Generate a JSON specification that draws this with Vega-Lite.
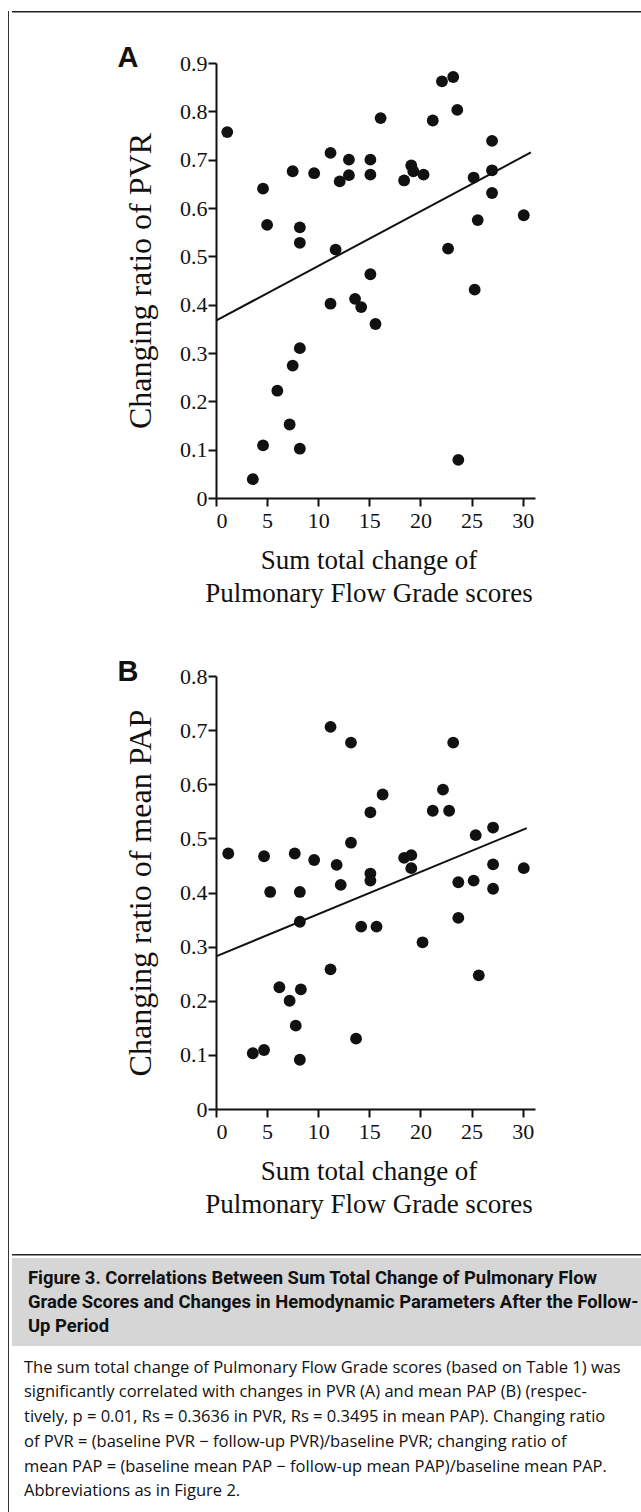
{
  "$schema": "https://vega.github.io/schema/vega-lite/v6.json",
  "background": "white",
  "padding": {"left": 5, "top": 9, "right": 0, "bottom": 0},
  "config": {
    "view": {"stroke": null},
    "concat": {"spacing": 0},
    "axis": {
      "grid": false,
      "domainColor": "#111",
      "domainWidth": 2,
      "tickColor": "#111",
      "tickWidth": 2,
      "tickSize": 8,
      "labelFont": "Liberation Serif",
      "labelFontSize": 22,
      "labelColor": "#111",
      "titleFont": "Liberation Serif",
      "titleFontWeight": "normal",
      "titleColor": "#111"
    },
    "axisX": {"titleFontSize": 27, "titlePadding": 16, "titleLineHeight": 33, "labelPadding": 4, "titleX": 152.5},
    "axisY": {"titleFontSize": 32, "titlePadding": 22, "labelPadding": 1}
  },
  "datasets": {
    "pvr": [
      {"x": 1.1, "y": 0.757}, {"x": 4.6, "y": 0.640}, {"x": 5.0, "y": 0.565}, {"x": 7.5, "y": 0.676},
      {"x": 9.6, "y": 0.672}, {"x": 8.2, "y": 0.560}, {"x": 8.2, "y": 0.528}, {"x": 11.2, "y": 0.714},
      {"x": 12.1, "y": 0.655}, {"x": 13.0, "y": 0.700}, {"x": 13.0, "y": 0.668}, {"x": 11.7, "y": 0.514},
      {"x": 15.1, "y": 0.700}, {"x": 15.1, "y": 0.669}, {"x": 16.1, "y": 0.786}, {"x": 11.2, "y": 0.402},
      {"x": 13.6, "y": 0.412}, {"x": 14.2, "y": 0.395}, {"x": 15.1, "y": 0.463}, {"x": 15.6, "y": 0.360},
      {"x": 18.4, "y": 0.657}, {"x": 19.1, "y": 0.688}, {"x": 19.3, "y": 0.676}, {"x": 20.3, "y": 0.669},
      {"x": 21.2, "y": 0.781}, {"x": 22.1, "y": 0.862}, {"x": 23.2, "y": 0.871}, {"x": 23.6, "y": 0.803},
      {"x": 22.7, "y": 0.516}, {"x": 25.2, "y": 0.663}, {"x": 27.0, "y": 0.739}, {"x": 27.0, "y": 0.678},
      {"x": 27.0, "y": 0.631}, {"x": 25.6, "y": 0.575}, {"x": 30.1, "y": 0.585}, {"x": 25.3, "y": 0.431},
      {"x": 3.6, "y": 0.039}, {"x": 4.6, "y": 0.109}, {"x": 6.0, "y": 0.222}, {"x": 7.2, "y": 0.152},
      {"x": 7.5, "y": 0.274}, {"x": 8.2, "y": 0.310}, {"x": 8.2, "y": 0.102}, {"x": 23.7, "y": 0.079}
    ],
    "pvrfit": [{"x": 0, "y": 0.367}, {"x": 30.8, "y": 0.715}],
    "pap": [
      {"x": 1.2, "y": 0.472}, {"x": 4.7, "y": 0.467}, {"x": 5.3, "y": 0.401}, {"x": 7.7, "y": 0.472},
      {"x": 8.2, "y": 0.401}, {"x": 9.6, "y": 0.460}, {"x": 11.2, "y": 0.706}, {"x": 11.8, "y": 0.451},
      {"x": 12.2, "y": 0.414}, {"x": 13.2, "y": 0.677}, {"x": 13.2, "y": 0.492}, {"x": 15.1, "y": 0.548},
      {"x": 15.1, "y": 0.435}, {"x": 15.1, "y": 0.422}, {"x": 16.3, "y": 0.581}, {"x": 18.4, "y": 0.464},
      {"x": 19.1, "y": 0.469}, {"x": 19.1, "y": 0.445}, {"x": 21.2, "y": 0.551}, {"x": 22.2, "y": 0.590},
      {"x": 22.8, "y": 0.551}, {"x": 23.2, "y": 0.677}, {"x": 23.7, "y": 0.419}, {"x": 25.2, "y": 0.422},
      {"x": 25.4, "y": 0.506}, {"x": 27.1, "y": 0.520}, {"x": 27.1, "y": 0.452}, {"x": 27.1, "y": 0.407},
      {"x": 30.1, "y": 0.445}, {"x": 8.2, "y": 0.346}, {"x": 14.2, "y": 0.337}, {"x": 15.7, "y": 0.337},
      {"x": 23.7, "y": 0.353}, {"x": 20.2, "y": 0.308}, {"x": 25.7, "y": 0.247}, {"x": 11.2, "y": 0.258},
      {"x": 6.2, "y": 0.225}, {"x": 8.3, "y": 0.221}, {"x": 7.2, "y": 0.200}, {"x": 7.8, "y": 0.154},
      {"x": 13.7, "y": 0.130}, {"x": 3.6, "y": 0.103}, {"x": 4.7, "y": 0.109}, {"x": 8.2, "y": 0.091}
    ],
    "papfit": [{"x": 0, "y": 0.282}, {"x": 30.4, "y": 0.519}],
    "header": [
      {"line": "Figure 3. Correlations Between Sum Total Change of Pulmonary Flow"},
      {"line": "Grade Scores and Changes in Hemodynamic Parameters After the Follow-"},
      {"line": "Up Period"}
    ],
    "body": [
      {"line": "The sum total change of Pulmonary Flow Grade scores (based on Table 1) was"},
      {"line": "significantly correlated with changes in PVR (A) and mean PAP (B) (respec-"},
      {"line": "tively, p = 0.01, Rs = 0.3636 in PVR, Rs = 0.3495 in mean PAP). Changing ratio"},
      {"line": "of PVR = (baseline PVR \u2212 follow-up PVR)/baseline PVR; changing ratio of"},
      {"line": "mean PAP = (baseline mean PAP \u2212 follow-up mean PAP)/baseline mean PAP."},
      {"line": "Abbreviations as in Figure 2."}
    ]
  },
  "hconcat": [
    {
      "width": 1,
      "height": 1503,
      "view": {"fill": "#333"},
      "data": {"values": [{}]},
      "mark": {"type": "point", "opacity": 0}
    },
    {
      "vconcat": [
        {
          "width": 635,
          "height": 1.5,
          "view": {"fill": "#222"},
          "data": {"values": [{}]},
          "mark": {"type": "point", "opacity": 0}
        },
        {
          "width": 10,
          "height": 28.5,
          "data": {"values": [{}]},
          "mark": {"type": "point", "opacity": 0}
        },
        {
          "hconcat": [
            {
              "width": 105,
              "height": 10,
              "data": {"values": [{}]},
              "mark": {"type": "point", "opacity": 0}
            },
            {
              "width": 319,
              "height": 435,
              "title": {"text": "A", "anchor": "start", "frame": "bounds", "font": "Liberation Sans", "fontSize": 29, "fontWeight": "bold", "color": "#111", "offset": -21, "dx": -7},
              "layer": [
                {
                  "data": {"name": "pvr"},
                  "mark": {"type": "circle", "size": 140, "color": "#111", "opacity": 1},
                  "encoding": {
                    "x": {"field": "x", "type": "quantitative", "scale": {"domain": [0, 31.2], "nice": false, "zero": false},
                      "axis": {"values": [0, 5, 10, 15, 20, 25, 30], "title": ["Sum total change of", "Pulmonary Flow Grade scores"]}},
                    "y": {"field": "y", "type": "quantitative", "scale": {"domain": [0, 0.9], "nice": false},
                      "axis": {"values": [0, 0.1, 0.2, 0.3, 0.4, 0.5, 0.6, 0.7, 0.8, 0.9], "format": ".1~f", "title": "Changing ratio of PVR"}}
                  }
                },
                {
                  "data": {"name": "pvrfit"},
                  "mark": {"type": "line", "color": "#111", "strokeWidth": 2},
                  "encoding": {
                    "x": {"field": "x", "type": "quantitative"},
                    "y": {"field": "y", "type": "quantitative"}
                  }
                }
              ]
            }
          ]
        },
        {
          "width": 10,
          "height": 52,
          "data": {"values": [{}]},
          "mark": {"type": "point", "opacity": 0}
        },
        {
          "hconcat": [
            {
              "width": 105,
              "height": 10,
              "data": {"values": [{}]},
              "mark": {"type": "point", "opacity": 0}
            },
            {
              "width": 319,
              "height": 433,
              "title": {"text": "B", "anchor": "start", "frame": "bounds", "font": "Liberation Sans", "fontSize": 29, "fontWeight": "bold", "color": "#111", "offset": -22, "dx": -7},
              "layer": [
                {
                  "data": {"name": "pap"},
                  "mark": {"type": "circle", "size": 140, "color": "#111", "opacity": 1},
                  "encoding": {
                    "x": {"field": "x", "type": "quantitative", "scale": {"domain": [0, 31.2], "nice": false, "zero": false},
                      "axis": {"values": [0, 5, 10, 15, 20, 25, 30], "title": ["Sum total change of", "Pulmonary Flow Grade scores"]}},
                    "y": {"field": "y", "type": "quantitative", "scale": {"domain": [0, 0.8], "nice": false},
                      "axis": {"values": [0, 0.1, 0.2, 0.3, 0.4, 0.5, 0.6, 0.7, 0.8], "format": ".1~f", "title": "Changing ratio of mean PAP"}}
                  }
                },
                {
                  "data": {"name": "papfit"},
                  "mark": {"type": "line", "color": "#111", "strokeWidth": 2},
                  "encoding": {
                    "x": {"field": "x", "type": "quantitative"},
                    "y": {"field": "y", "type": "quantitative"}
                  }
                }
              ]
            }
          ]
        },
        {
          "width": 10,
          "height": 34.5,
          "data": {"values": [{}]},
          "mark": {"type": "point", "opacity": 0}
        },
        {
          "width": 635,
          "height": 1.5,
          "view": {"fill": "#222"},
          "data": {"values": [{}]},
          "mark": {"type": "point", "opacity": 0}
        },
        {
          "width": 635,
          "height": 88,
          "view": {"fill": "#d6d6d6"},
          "data": {"name": "header"},
          "mark": {"type": "text", "align": "left", "baseline": "middle", "font": "Roboto", "fontWeight": "bold", "fontSize": 18.4, "color": "#111", "dx": 16},
          "encoding": {
            "text": {"field": "line"},
            "x": {"datum": 0, "type": "quantitative", "scale": {"domain": [0, 1]}, "axis": null},
            "y": {"field": "line", "type": "ordinal", "sort": null, "axis": null, "scale": {"padding": 0.8}}
          }
        },
        {
          "width": 635,
          "height": 167,
          "data": {"name": "body"},
          "mark": {"type": "text", "align": "left", "baseline": "middle", "font": "Open Sans", "fontSize": 16.5, "color": "#111", "dx": 12},
          "encoding": {
            "text": {"field": "line"},
            "x": {"datum": 0, "type": "quantitative", "scale": {"domain": [0, 1]}, "axis": null},
            "y": {"field": "line", "type": "ordinal", "sort": null, "axis": null, "scale": {"padding": 0.88}}
          }
        }
      ]
    }
  ]
}
